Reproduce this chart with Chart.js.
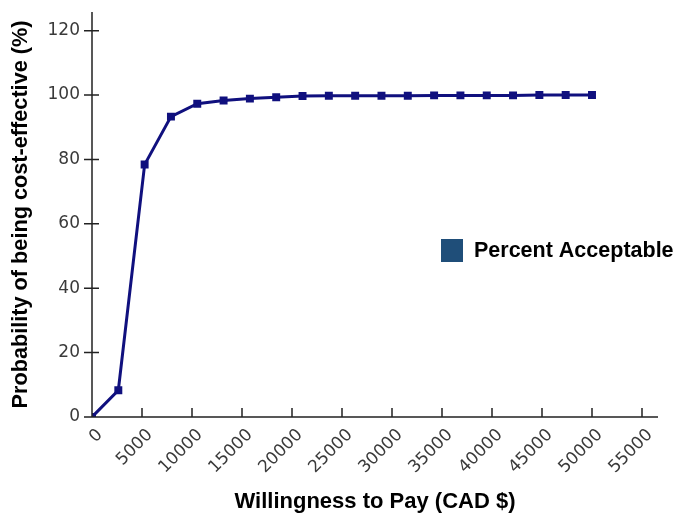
<!DOCTYPE html>
<html>
<head>
<meta charset="utf-8">
<script src="https://cdn.jsdelivr.net/npm/chart.js@4/dist/chart.umd.min.js"></script>
<style>
  html, body { margin: 0; padding: 0; background: #fff; }
  #wrap { position: relative; width: 676px; height: 517px; }
</style>
</head>
<body>
<div id="wrap"><canvas id="grafica"></canvas></div>
<script>
// Datos
const disposicionPago = [0, 2632, 5263, 7895, 10526, 13158, 15789, 18421, 21053, 23684,
                         26316, 28947, 31579, 34211, 36842, 39474, 42105, 44737, 47368, 50000];
const probAceptable   = [0, 8.3, 78.4, 93.3, 97.3, 98.3, 98.9, 99.3, 99.7, 99.8,
                         99.8, 99.8, 99.8, 99.9, 99.9, 99.9, 99.9, 100, 100, 100];
const ticksX = [0, 5000, 10000, 15000, 20000, 25000, 30000, 35000, 40000, 45000, 50000, 55000];
const ticksY = [0, 20, 40, 60, 80, 100, 120];

const colorLinea   = '#10107e';
const colorLeyenda = '#1f4e79';
const colorEje     = '#222';

// Ejes, marcas y leyenda dibujados a mano
const ejesPlugin = {
  id: 'ejes',
  afterDraw(chart) {
    const { ctx, chartArea: a, scales: { x, y } } = chart;
    ctx.save();
    ctx.strokeStyle = colorEje;
    ctx.lineWidth = 1.5;
    ctx.beginPath();
    ctx.moveTo(a.left, a.top); ctx.lineTo(a.left, a.bottom);
    ctx.moveTo(a.left, a.bottom); ctx.lineTo(a.right, a.bottom);
    for (const v of ticksY) {
      const py = y.getPixelForValue(v);
      ctx.moveTo(a.left - 8, py); ctx.lineTo(a.left + 7, py);
    }
    for (const v of ticksX) {
      const px = x.getPixelForValue(v);
      ctx.moveTo(px, a.bottom - 9); ctx.lineTo(px, a.bottom);
    }
    ctx.stroke();

    // leyenda
    const ds = chart.data.datasets[0];
    ctx.fillStyle = colorLeyenda;
    ctx.fillRect(441, 239, 22, 23);
    ctx.fillStyle = '#000';
    ctx.font = 'bold 21.5px "Liberation Sans", Arial, sans-serif';
    ctx.textBaseline = 'middle';
    ctx.textAlign = 'left';
    ctx.fillText(ds.label, 474, 251);
    ctx.restore();
  }
};

new Chart(document.getElementById('grafica'), {
  type: 'line',
  data: {
    datasets: [{
      label:           'Percent Acceptable',
      data:            disposicionPago.map((v, i) => ({ x: v, y: probAceptable[i] })),
      borderColor:     colorLinea,
      backgroundColor: colorLinea,
      borderWidth:     3,
      tension:         0,
      pointStyle:      'rect',
      pointRadius:     3.5,
      pointBackgroundColor: colorLinea,
      pointBorderColor: colorLinea,
    }],
  },
  options: {
    responsive: true,
    maintainAspectRatio: false,
    animation: false,
    layout: { padding: { top: 12, right: 18, left: 0, bottom: 0 } },
    plugins: { legend: { display: false }, tooltip: { enabled: false } },
    scales: {
      x: {
        type: 'linear',
        min: 0,
        max: 56600,
        afterBuildTicks: s => { s.ticks = ticksX.map(v => ({ value: v })); },
        afterFit: s => { s.height = 100; s.paddingLeft = 0; s.paddingRight = 0; },
        grid: { display: false },
        border: { display: false },
        ticks: {
          minRotation: 45, maxRotation: 45,
          padding: 0,
          labelOffset: 8,
          color: '#3a3a3a',
          font: { family: '"DejaVu Sans", Verdana, sans-serif', size: 17 },
          callback: v => String(v),
        },
        title: {
          display: true,
          text: 'Willingness to Pay (CAD $)',
          color: '#000',
          font: { family: '"Liberation Sans", Arial, sans-serif', size: 22, weight: 'bold' },
          padding: { top: 0, bottom: 2 },
        },
      },
      y: {
        min: 0,
        max: 125.8,
        afterBuildTicks: s => { s.ticks = ticksY.map(v => ({ value: v })); },
        afterFit: s => { s.width = 92; s.paddingTop = 0; s.paddingBottom = 0; },
        grid: { display: false },
        border: { display: false },
        ticks: {
          padding: 4,
          color: '#3a3a3a',
          font: { family: '"DejaVu Sans", Verdana, sans-serif', size: 17 },
        },
        title: {
          display: true,
          text: 'Probability of being cost-effective (%)',
          color: '#000',
          font: { family: '"Liberation Sans", Arial, sans-serif', size: 21.7, weight: 'bold' },
          padding: { top: 8, bottom: 0 },
        },
      },
    },
  },
  plugins: [ejesPlugin],
});
</script>
</body>
</html>
